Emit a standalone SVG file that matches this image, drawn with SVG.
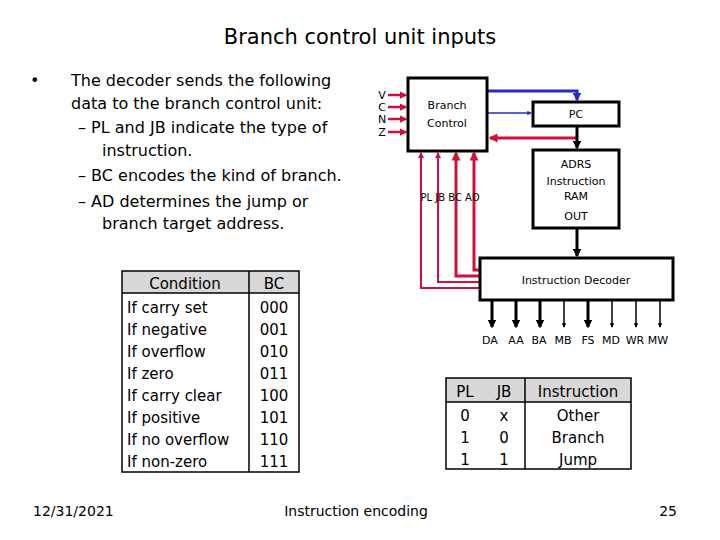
<svg xmlns="http://www.w3.org/2000/svg" width="720" height="540" viewBox="0 0 720 540">
<style>
text{font-family:"DejaVu Sans","Liberation Sans",sans-serif;fill:#000}
.box{fill:#fff;stroke:#000;stroke-width:3}
.red{stroke:#d0103a;fill:none}
.lbl{font-size:11px}
.t{font-size:15px}
.rt{fill:#b0103a;font-size:11px}
</style>
<defs>
<marker id="ar" viewBox="0 0 6 6" refX="5" refY="3" markerWidth="3" markerHeight="3" orient="auto"><path d="M0,0L6,3L0,6z" fill="#d0103a"/></marker>
<marker id="ab" viewBox="0 0 6 6" refX="5" refY="3" markerWidth="3" markerHeight="3" orient="auto"><path d="M0,0L6,3L0,6z" fill="#2828c8"/></marker>
<marker id="ak" viewBox="0 0 6 6" refX="5" refY="3" markerWidth="3" markerHeight="3" orient="auto"><path d="M0,0L6,3L0,6z" fill="#000"/></marker>
</defs>
<rect width="720" height="540" fill="#fff"/>
<text x="360" y="44" text-anchor="middle" font-size="21">Branch control unit inputs</text>
<g id="bullets" font-size="16">
<text x="30" y="86">•</text>
<text x="71" y="86">The decoder sends the following</text>
<text x="71" y="109">data to the branch control unit:</text>
<text x="78" y="133">– PL and JB indicate the type of</text>
<text x="102" y="156">instruction.</text>
<text x="78" y="181">– BC encodes the kind of branch.</text>
<text x="78" y="207">– AD determines the jump or</text>
<text x="102" y="229">branch target address.</text>
</g>
<g id="connectors">
<g class="red" stroke-width="2.5">
<line x1="388" y1="95" x2="406" y2="95" marker-end="url(#ar)"/>
<line x1="388" y1="107" x2="406" y2="107" marker-end="url(#ar)"/>
<line x1="388" y1="119" x2="406" y2="119" marker-end="url(#ar)"/>
<line x1="388" y1="132" x2="406" y2="132" marker-end="url(#ar)"/>
<polyline points="480,288 421,288 421,153" marker-end="url(#ar)" stroke-width="2"/>
<polyline points="480,282 438,282 438,153" marker-end="url(#ar)" stroke-width="2"/>
<polyline points="480,276 456,276 456,153" marker-end="url(#ar)" stroke-width="3"/>
<polyline points="480,270 474,270 474,153" marker-end="url(#ar)" stroke-width="3"/>
<polyline points="577,138 490,138" marker-end="url(#ar)" stroke-width="3"/>
</g>
<polyline points="487,91 577,91 577,100" fill="none" stroke="#2828c8" stroke-width="3" marker-end="url(#ab)"/>
<line x1="487" y1="113" x2="531" y2="113" stroke="#2828c8" stroke-width="1.5" marker-end="url(#ab)"/>
<line x1="577" y1="126" x2="577" y2="148" stroke="#000" stroke-width="3" marker-end="url(#ak)"/>
<line x1="577" y1="228" x2="577" y2="256" stroke="#000" stroke-width="3" marker-end="url(#ak)"/>
<g stroke="#000" marker-end="url(#ak)">
<line x1="492" y1="300" x2="492" y2="327" stroke-width="3"/>
<line x1="516" y1="300" x2="516" y2="327" stroke-width="3"/>
<line x1="540" y1="300" x2="540" y2="327" stroke-width="3"/>
<line x1="564" y1="300" x2="564" y2="327" stroke-width="1.5"/>
<line x1="588" y1="300" x2="588" y2="327" stroke-width="3"/>
<line x1="612" y1="300" x2="612" y2="327" stroke-width="1.5"/>
<line x1="636" y1="300" x2="636" y2="327" stroke-width="1.5"/>
<line x1="660" y1="300" x2="660" y2="327" stroke-width="1.5"/>
</g>
</g>
<g id="flags" class="rt">
<text x="382" y="99" text-anchor="middle">V</text>
<text x="382" y="111" text-anchor="middle">C</text>
<text x="382" y="123" text-anchor="middle">N</text>
<text x="382" y="136" text-anchor="middle">Z</text>
<text x="450" y="201" text-anchor="middle" font-size="10">PL  JB BC AD</text>
</g>
<g id="branch-control"><rect class="box" x="408" y="78" width="79" height="73"/>
<text class="lbl" x="447" y="109" text-anchor="middle">Branch</text>
<text class="lbl" x="447" y="127" text-anchor="middle">Control</text></g>
<g id="pc"><rect class="box" x="533" y="102" width="86" height="24"/>
<text class="lbl" x="576" y="118" text-anchor="middle">PC</text></g>
<g id="ram"><rect class="box" x="533" y="150" width="86" height="78"/>
<text class="lbl" x="576" y="168" text-anchor="middle">ADRS</text>
<text class="lbl" x="576" y="185" text-anchor="middle">Instruction</text>
<text class="lbl" x="576" y="200" text-anchor="middle">RAM</text>
<text class="lbl" x="576" y="220" text-anchor="middle">OUT</text></g>
<g id="decoder"><rect class="box" x="480" y="258" width="193" height="42"/>
<text class="lbl" x="576" y="284" text-anchor="middle">Instruction Decoder</text></g>
<g id="outputs" class="lbl" text-anchor="middle">
<text x="490" y="344">DA</text><text x="516" y="344">AA</text><text x="539" y="344">BA</text><text x="563" y="344">MB</text><text x="588" y="344">FS</text><text x="611" y="344">MD</text><text x="635" y="344">WR</text><text x="658" y="344">MW</text>
</g>
<g id="bc-table">
<rect x="122" y="271" width="177" height="22" fill="#d8d8d8"/>
<rect x="122" y="271" width="177" height="201" fill="none" stroke="#000" stroke-width="1.5"/>
<line x1="122" y1="293" x2="299" y2="293" stroke="#000" stroke-width="1.5"/>
<line x1="249" y1="271" x2="249" y2="472" stroke="#000" stroke-width="1.5"/>
<g class="t">
<text x="185" y="289" text-anchor="middle">Condition</text><text x="274" y="289" text-anchor="middle">BC</text>
<text x="127" y="313">If carry set</text><text x="274" y="313" text-anchor="middle">000</text>
<text x="127" y="335">If negative</text><text x="274" y="335" text-anchor="middle">001</text>
<text x="127" y="357">If overflow</text><text x="274" y="357" text-anchor="middle">010</text>
<text x="127" y="379">If zero</text><text x="274" y="379" text-anchor="middle">011</text>
<text x="127" y="401">If carry clear</text><text x="274" y="401" text-anchor="middle">100</text>
<text x="127" y="423">If positive</text><text x="274" y="423" text-anchor="middle">101</text>
<text x="127" y="445">If no overflow</text><text x="274" y="445" text-anchor="middle">110</text>
<text x="127" y="467">If non-zero</text><text x="274" y="467" text-anchor="middle">111</text>
</g>
</g>
<g id="pl-table">
<rect x="446" y="378" width="185" height="24" fill="#d8d8d8"/>
<rect x="446" y="378" width="185" height="91" fill="none" stroke="#000" stroke-width="1.5"/>
<line x1="446" y1="402" x2="631" y2="402" stroke="#000" stroke-width="1.5"/>
<line x1="525" y1="378" x2="525" y2="469" stroke="#000" stroke-width="1.5"/>
<g class="t" text-anchor="middle">
<text x="465" y="397">PL</text><text x="504" y="397">JB</text><text x="578" y="397">Instruction</text>
<text x="465" y="421">0</text><text x="504" y="421">x</text><text x="578" y="421">Other</text>
<text x="465" y="443">1</text><text x="504" y="443">0</text><text x="578" y="443">Branch</text>
<text x="465" y="465">1</text><text x="504" y="465">1</text><text x="578" y="465">Jump</text>
</g>
</g>
<g id="footer" font-size="14">
<text x="33" y="516">12/31/2021</text>
<text x="356" y="516" text-anchor="middle">Instruction encoding</text>
<text x="677" y="516" text-anchor="end">25</text>
</g>
</svg>
